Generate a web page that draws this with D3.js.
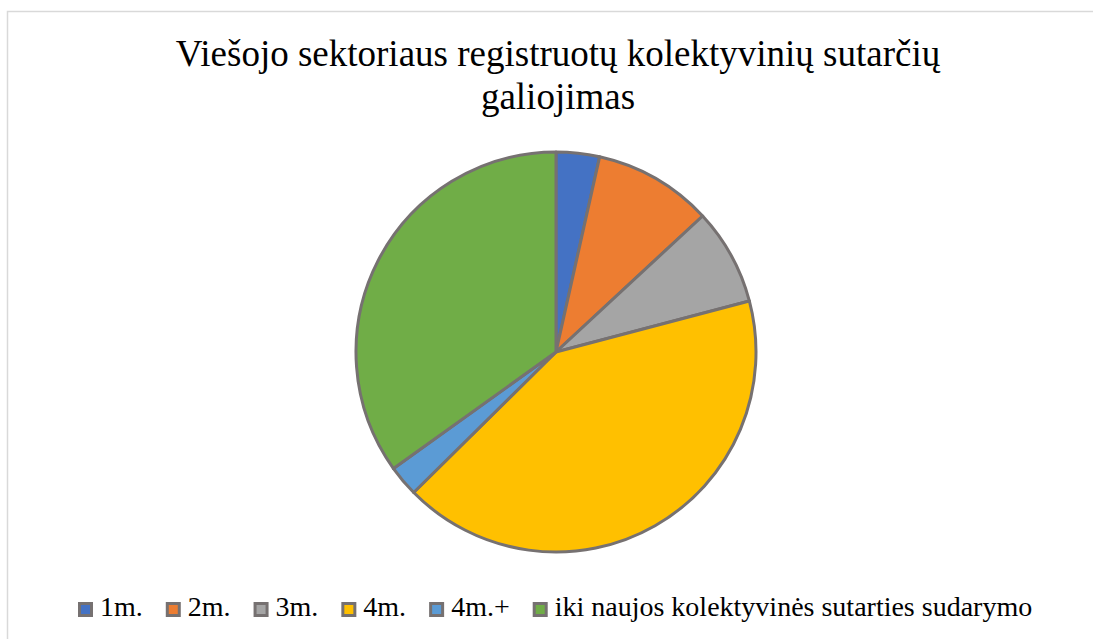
<!DOCTYPE html>
<html>
<head>
<meta charset="utf-8">
<script src="https://cdn.jsdelivr.net/npm/d3@7"></script>
<style>
  body { margin: 0; background: #fff; }
  svg { display: block; }
</style>
</head>
<body>
<div id="chart"></div>
<script>
const categories = ["1m.", "2m.", "3m.", "4m.", "4m.+", "iki naujos kolektyvinės sutarties sudarymo"];
const values = [3.5, 9.6, 7.8, 41.7, 2.5, 34.9];
const colors = ["#4472C4", "#ED7D31", "#A5A5A5", "#FFC000", "#5B9BD5", "#70AD47"];
const titleLines = ["Viešojo sektoriaus registruotų kolektyvinių sutarčių", "galiojimas"];

const width = 1093, height = 639;
const font = "'Liberation Serif', 'Times New Roman', serif";

const svg = d3.select("#chart").append("svg")
    .attr("width", width)
    .attr("height", height);

// chart area frame
svg.append("rect")
    .attr("x", 7.5)
    .attr("y", 11.5)
    .attr("width", 1100)
    .attr("height", 700)
    .attr("fill", "white")
    .attr("stroke", "#d9d9d9")
    .attr("stroke-width", 1.5);

svg.selectAll("text.title")
    .data(titleLines)
    .enter()
    .append("text")
    .attr("class", "title")
    .attr("x", 558)
    .attr("y", (d, i) => 66 + i * 43)
    .attr("text-anchor", "middle")
    .style("font-family", font)
    .style("font-size", "37px")
    .attr("fill", "#000")
    .text(d => d);

const cx = 556, cy = 352, radius = 200;
const pie = d3.pie().sort(null).value(d => d.value);
const arc = d3.arc().innerRadius(0).outerRadius(radius);
const data = categories.map((c, i) => ({ category: c, value: values[i], color: colors[i] }));

svg.append("g")
    .attr("transform", `translate(${cx}, ${cy})`)
    .selectAll("path")
    .data(pie(data))
    .enter()
    .append("path")
    .attr("d", arc)
    .attr("fill", d => d.data.color)
    .attr("stroke", "#767171")
    .attr("stroke-width", 3)
    .attr("stroke-linejoin", "round");

// legend
const legend = svg.append("g");
const items = legend.selectAll("g")
    .data(data)
    .enter()
    .append("g");

items.append("rect")
    .attr("x", 1.5)
    .attr("y", 1.5)
    .attr("width", 12)
    .attr("height", 12)
    .attr("fill", d => d.color)
    .attr("stroke", "#767171")
    .attr("stroke-width", 3);

items.append("text")
    .attr("x", 22)
    .attr("y", 14)
    .style("font-family", font)
    .style("font-size", "28px")
    .attr("fill", "#000")
    .text(d => d.category);

let x = 78;
items.each(function() {
    const g = d3.select(this);
    g.attr("transform", `translate(${x}, 602)`);
    const w = g.select("text").node().getComputedTextLength();
    x += 22 + w + 23;
});
</script>
</body>
</html>
